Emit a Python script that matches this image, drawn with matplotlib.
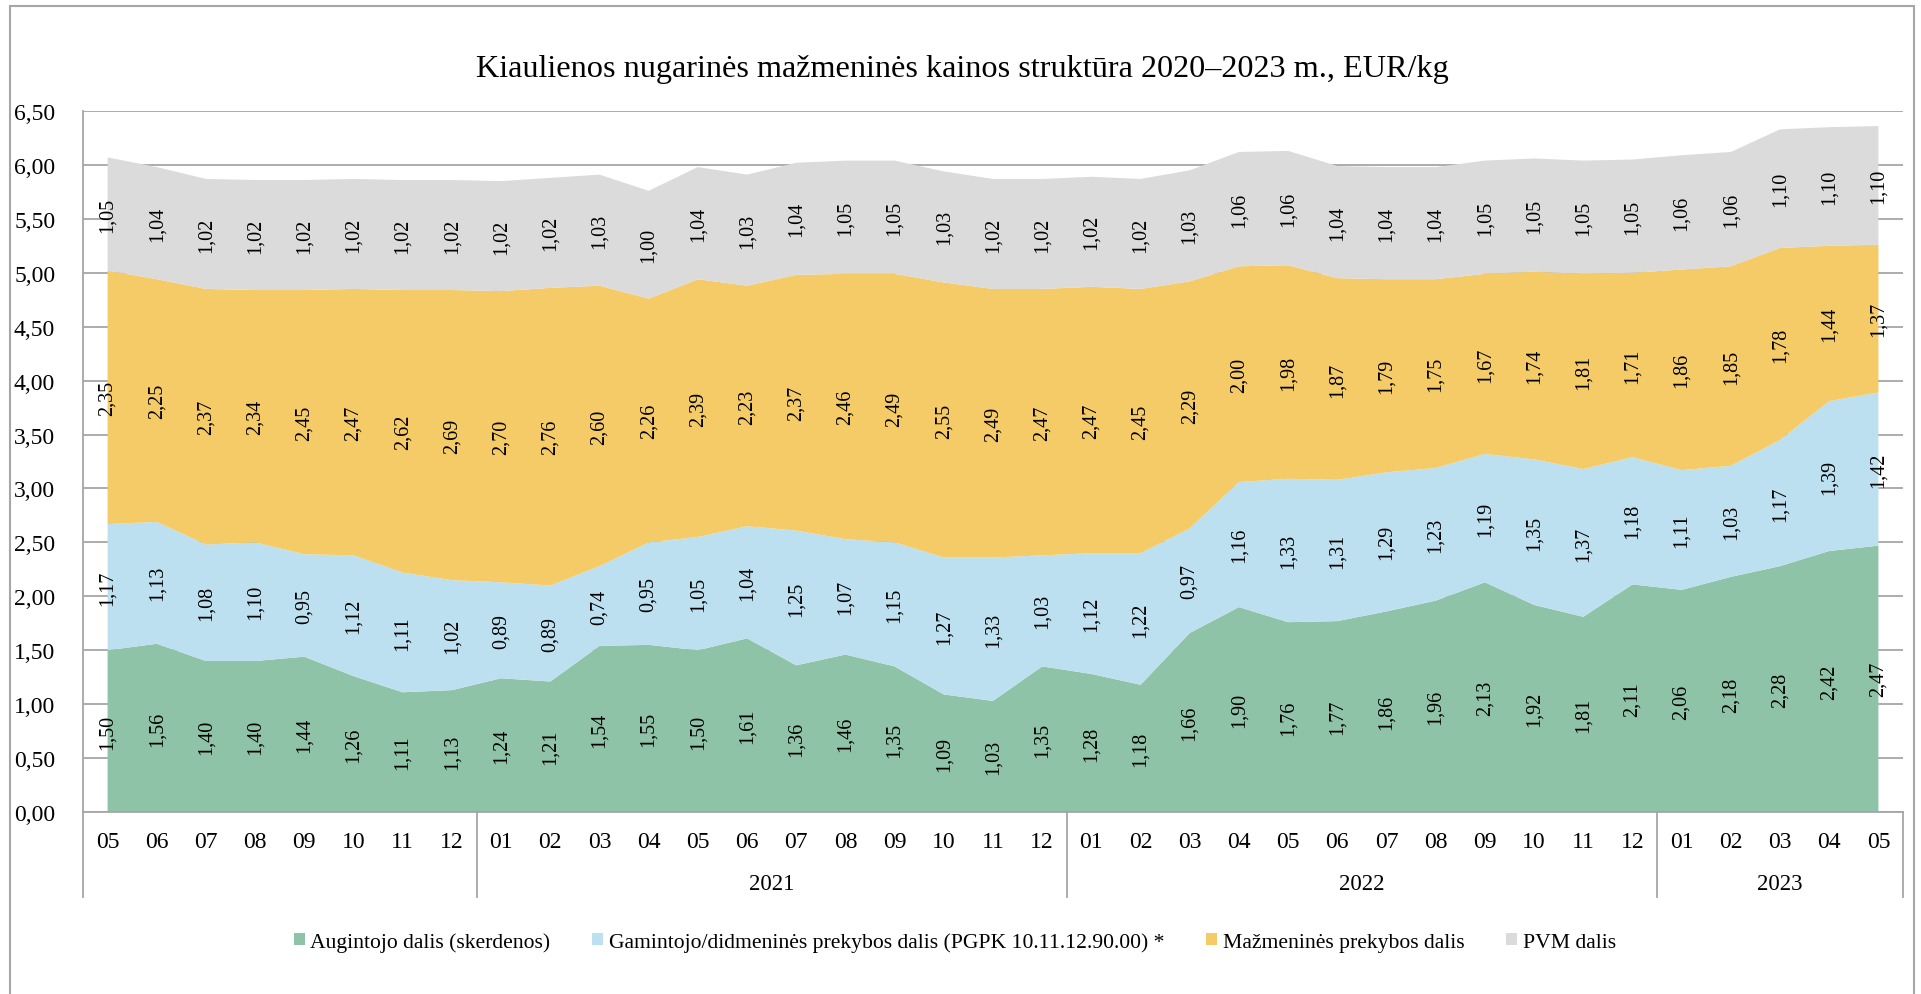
import matplotlib
matplotlib.use("Agg")
import matplotlib.pyplot as plt
import matplotlib.transforms as mtransforms
from matplotlib.patches import Rectangle, Patch
from matplotlib.lines import Line2D
import numpy as np

plt.rcParams['font.family'] = ['Liberation Serif', 'DejaVu Serif']

title = "Kiaulienos nugarinės mažmeninės kainos struktūra 2020–2023 m., EUR/kg"

months = ["05", "06", "07", "08", "09", "10", "11", "12",
          "01", "02", "03", "04", "05", "06", "07", "08", "09", "10", "11", "12",
          "01", "02", "03", "04", "05", "06", "07", "08", "09", "10", "11", "12",
          "01", "02", "03", "04", "05"]
years = ["", "2021", "2022", "2023"]
year_counts = [8, 12, 12, 5]

series_names = ["Augintojo dalis (skerdenos)",
                "Gamintojo/didmeninės prekybos dalis (PGPK 10.11.12.90.00) *",
                "Mažmeninės prekybos dalis",
                "PVM dalis"]

augintojo = [1.50, 1.56, 1.40, 1.40, 1.44, 1.26, 1.11, 1.13,
             1.24, 1.21, 1.54, 1.55, 1.50, 1.61, 1.36, 1.46, 1.35, 1.09, 1.03, 1.35,
             1.28, 1.18, 1.66, 1.90, 1.76, 1.77, 1.86, 1.96, 2.13, 1.92, 1.81, 2.11,
             2.06, 2.18, 2.28, 2.42, 2.47]
gamintojo = [1.17, 1.13, 1.08, 1.10, 0.95, 1.12, 1.11, 1.02,
             0.89, 0.89, 0.74, 0.95, 1.05, 1.04, 1.25, 1.07, 1.15, 1.27, 1.33, 1.03,
             1.12, 1.22, 0.97, 1.16, 1.33, 1.31, 1.29, 1.23, 1.19, 1.35, 1.37, 1.18,
             1.11, 1.03, 1.17, 1.39, 1.42]
mazmenines = [2.35, 2.25, 2.37, 2.34, 2.45, 2.47, 2.62, 2.69,
              2.70, 2.76, 2.60, 2.26, 2.39, 2.23, 2.37, 2.46, 2.49, 2.55, 2.49, 2.47,
              2.47, 2.45, 2.29, 2.00, 1.98, 1.87, 1.79, 1.75, 1.67, 1.74, 1.81, 1.71,
              1.86, 1.85, 1.78, 1.44, 1.37]
pvm = [1.05, 1.04, 1.02, 1.02, 1.02, 1.02, 1.02, 1.02,
       1.02, 1.02, 1.03, 1.00, 1.04, 1.03, 1.04, 1.05, 1.05, 1.03, 1.02, 1.02,
       1.02, 1.02, 1.03, 1.06, 1.06, 1.04, 1.04, 1.04, 1.05, 1.05, 1.05, 1.05,
       1.06, 1.06, 1.10, 1.10, 1.10]

y_ticks = [0.0, 0.5, 1.0, 1.5, 2.0, 2.5, 3.0, 3.5, 4.0, 4.5, 5.0, 5.5, 6.0, 6.5]
y_tick_labels = ["0,00", "0,50", "1,00", "1,50", "2,00", "2,50", "3,00",
                 "3,50", "4,00", "4,50", "5,00", "5,50", "6,00", "6,50"]

colors = ["#8FC3A7", "#BDE0F0", "#F4CB66", "#DBDBDB"]
grid_color = "#A6A6A6"

W, H = 1921, 995
fig = plt.figure(figsize=(W / 100, H / 100), dpi=100)
fig.patch.set_facecolor("white")

left_px, right_px, top_px, bottom_px = 83, 1903, 112, 813
ax = fig.add_axes([left_px / W, 1 - bottom_px / H,
                   (right_px - left_px) / W, (bottom_px - top_px) / H])

n = len(months)
x = np.arange(n)
data = [augintojo, gamintojo, mazmenines, pvm]
ax.stackplot(x, *data, colors=colors, linewidth=0, zorder=2)

ax.set_xlim(-0.5, n - 0.5)
ax.set_ylim(0, 6.5)
ax.set_yticks(y_ticks)
ax.set_yticklabels(y_tick_labels, fontsize=17)
ax.tick_params(axis='y', length=0, pad=20)
ax.set_xticks([])
ax.yaxis.grid(True, color=grid_color, linewidth=1.3, zorder=0)
ax.set_axisbelow(True)
for s in ["top", "right"]:
    ax.spines[s].set_visible(False)
for s in ["left", "bottom"]:
    ax.spines[s].set_color(grid_color)
    ax.spines[s].set_linewidth(1.3)

# data labels
cum = np.zeros(n)
for vals in data:
    v = np.array(vals)
    centers = cum + v / 2
    for i in range(n):
        ax.text(x[i], centers[i], f"{v[i]:.2f}".replace(".", ","),
                rotation=90, ha='center', va='center', fontsize=14.5,
                color='black', zorder=5)
    cum = cum + v

# category axis labels
trans = mtransforms.blended_transform_factory(ax.transData, fig.transFigure)
for i, m in enumerate(months):
    ax.text(x[i], 1 - 842 / H, m, transform=trans, ha='center', va='center',
            fontsize=17, clip_on=False)

start = 0
bounds = [0]
for lab, cnt in zip(years, year_counts):
    mid = start + (cnt - 1) / 2
    if lab:
        ax.text(mid, 1 - 885 / H, lab, transform=trans, ha='center', va='center',
                fontsize=16.5, clip_on=False)
    start += cnt
    bounds.append(start)
for b in bounds:
    ax.add_line(Line2D([b - 0.5, b - 0.5], [1 - bottom_px / H, 1 - 898 / H],
                       transform=trans, color=grid_color, linewidth=1.3,
                       clip_on=False))

# title
fig.text(0.501, 1 - 69 / H, title, ha='center', va='center', fontsize=23.2)

# legend
handles = [Patch(facecolor=c, edgecolor='none') for c in colors]
fig.legend(handles, series_names, loc='center', bbox_to_anchor=(0.497, 1 - 943 / H),
           ncol=4, frameon=False, fontsize=15.6, handlelength=0.5,
           handleheight=0.5, handletextpad=0.25, columnspacing=1.95)

# outer border
fig.patches.append(Rectangle((10 / W, -0.01), (1914 - 10) / W, 1.01 - 7 / H,
                             transform=fig.transFigure, fill=False,
                             edgecolor=grid_color, linewidth=1.5))

fig.savefig("out.png", dpi=100, facecolor='white')
